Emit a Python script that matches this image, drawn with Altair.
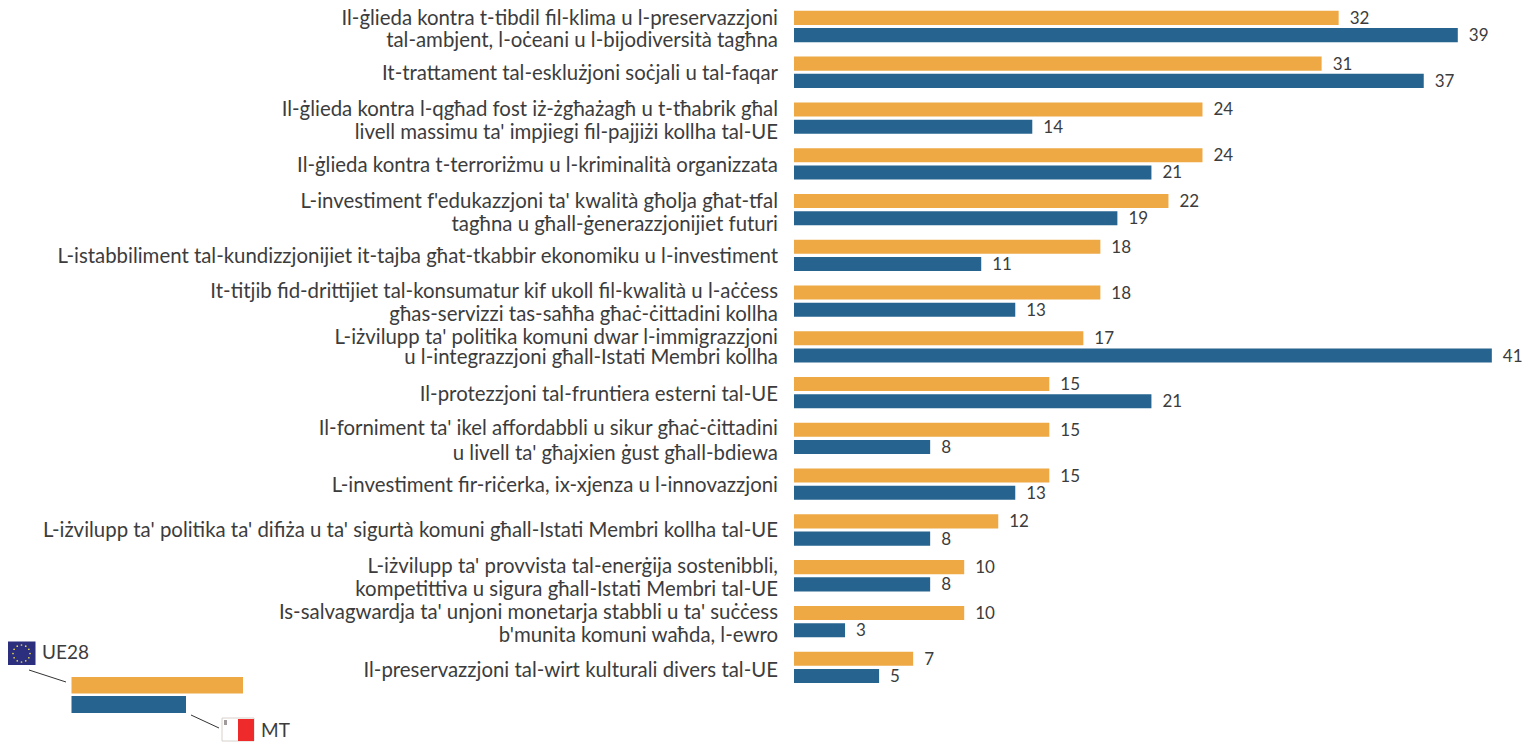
import altair as alt
import pandas as pd

categories = [
    "Il-ġlieda kontra t-tibdil fil-klima u l-preservazzjoni\ntal-ambjent, l-oċeani u l-bijodiversità tagħna",
    "It-trattament tal-esklużjoni soċjali u tal-faqar",
    "Il-ġlieda kontra l-qgħad fost iż-żgħażagħ u t-tħabrik għal\nlivell massimu ta' impjiegi fil-pajjiżi kollha tal-UE",
    "Il-ġlieda kontra t-terroriżmu u l-kriminalità organizzata",
    "L-investiment f'edukazzjoni ta' kwalità għolja għat-tfal\ntagħna u għall-ġenerazzjonijiet futuri",
    "L-istabbiliment tal-kundizzjonijiet it-tajba għat-tkabbir ekonomiku u l-investiment",
    "It-titjib fid-drittijiet tal-konsumatur kif ukoll fil-kwalità u l-aċċess\ngħas-servizzi tas-saħħa għaċ-ċittadini kollha",
    "L-iżvilupp ta' politika komuni dwar l-immigrazzjoni\nu l-integrazzjoni għall-Istati Membri kollha",
    "Il-protezzjoni tal-fruntiera esterni tal-UE",
    "Il-forniment ta' ikel affordabbli u sikur għaċ-ċittadini\nu livell ta' għajxien ġust għall-bdiewa",
    "L-investiment fir-riċerka, ix-xjenza u l-innovazzjoni",
    "L-iżvilupp ta' politika ta' difiża u ta' sigurtà komuni għall-Istati Membri kollha tal-UE",
    "L-iżvilupp ta' provvista tal-enerġija sostenibbli,\nkompetittiva u sigura għall-Istati Membri tal-UE",
    "Is-salvagwardja ta' unjoni monetarja stabbli u ta' suċċess\nb'munita komuni waħda, l-ewro",
    "Il-preservazzjoni tal-wirt kulturali divers tal-UE",
]
ue28 = [32, 31, 24, 24, 22, 18, 18, 17, 15, 15, 15, 12, 10, 10, 7]
mt = [39, 37, 14, 21, 19, 11, 13, 41, 21, 8, 13, 8, 8, 3, 5]
series = ["UE28", "MT"]
colors = ["#EEA944", "#26648F"]

FONT = "Lato"
INK = "#3C3C3C"
LABEL_SIZE = 20.4

df = pd.DataFrame(
    [{"cat": c, "series": "UE28", "value": v} for c, v in zip(categories, ue28)]
    + [{"cat": c, "series": "MT", "value": v} for c, v in zip(categories, mt)]
)

x = alt.X("value:Q", axis=None, scale=alt.Scale(domain=[0, 42.89], range=[0, 730], nice=False))
y_scale = alt.Scale(domain=categories, range=[-4.4, 682.2], paddingInner=0, paddingOuter=0)
y = alt.Y("cat:N", sort=categories, title=None, axis=None, scale=y_scale)
yoff = alt.YOffset("series:N", sort=series,
                   scale=alt.Scale(paddingInner=0.186, paddingOuter=0.42))

bars = alt.Chart(df).mark_bar(cornerRadius=0).encode(
    x=x, y=y, yOffset=yoff,
    color=alt.Color("series:N", sort=series, scale=alt.Scale(domain=series, range=colors), legend=None),
)
vals = alt.Chart(df).mark_text(align="left", baseline="middle", dx=11, dy=1, font=FONT, fontSize=17, color=INK).encode(
    x=x, y=y, yOffset=yoff, text=alt.Text("value:Q"),
)

# category labels: one real text per line, placed through the y scale
LINE_SHIFTS = {
    0: [-7, 15], 1: [2], 2: [-8, 15], 3: [2], 4: [-8, 15], 5: [2], 6: [-9, 14], 7: [-9, 11],
    8: [2], 9: [-9, 16], 10: [2], 11: [1], 12: [-9, 14], 13: [-9, 14], 14: [4],
}

rows = []
for i, c in enumerate(categories):
    for p, s in zip(c.split("\n"), LINE_SHIFTS[i]):
        rows.append({"cat": c, "line": p, "shift": s})
line_df = pd.DataFrame(rows)

label_layers = [
    alt.Chart(line_df[line_df["shift"] == s]).mark_text(
        align="right", baseline="middle", dx=-16, dy=int(s), font=FONT, fontSize=LABEL_SIZE, color=INK
    ).encode(x=alt.value(0), y=y, text="line:N")
    for s in sorted(line_df["shift"].unique())
]

# ----- hand-drawn key in the bottom-left corner (page pixels relative to the plot origin)
OX, OY = 794, 8
def px(v):
    return alt.value(v - OX)
def py(v):
    return alt.value(v - OY)

blank = pd.DataFrame({"k": [0]})
def box(x0, x1, y0, y1, fill, stroke=None):
    kw = {"fill": fill}
    if stroke:
        kw.update(stroke=stroke, strokeWidth=1)
    return alt.Chart(blank).mark_rect(**kw).encode(x=px(x0), x2=px(x1), y=py(y0), y2=py(y1))
def seg(x0, y0, x1, y1):
    d = pd.DataFrame({"a": [x0 - OX, x1 - OX], "b": [y0 - OY, y1 - OY]})
    return alt.Chart(d).mark_line(color="#333333", strokeWidth=1).encode(
        x=alt.X("a:Q", scale=None), y=alt.Y("b:Q", scale=None), order="a:Q")
def label(t, x0, y0):
    return alt.Chart(pd.DataFrame({"t": [t]})).mark_text(
        align="left", baseline="middle", font=FONT, fontSize=19, color=INK
    ).encode(x=px(x0), y=py(y0), text="t:N")

stars = alt.Chart(pd.DataFrame({"h": list(range(12))})).transform_calculate(
    a=f"21.5 - {OX} + 8.5*cos(datum.h*PI/6)", b=f"653.5 - {OY} + 8.5*sin(datum.h*PI/6)"
).mark_point(shape="circle", filled=True, size=3, color="#E9D84B", opacity=1).encode(
    x=alt.X("a:Q", scale=None), y=alt.Y("b:Q", scale=None)
)

key = [
    box(71.5, 243, 677, 693.5, colors[0]),
    box(71.5, 186, 696, 713, colors[1]),
    seg(29, 670, 66, 682),
    seg(191, 715, 219, 728),
    box(3, 35.5, 641.5, 665, "#2B2F7D"),
    stars,
    box(222, 254, 718, 741, "#FFFFFF", "#D8D0CC"),
    box(238, 254, 719, 741, "#EE2A2A"),
    box(224, 227, 720, 725, "#A09A9A"),
    label("UE28", 42, 653),
    label("MT", 261, 731),
]

chart = alt.layer(bars, vals, *label_layers, *key).resolve_scale(x="independent", y="independent").properties(
    width=730, height=734,
    padding={"left": 786, "top": 0, "right": 0, "bottom": 0},
    autosize=alt.AutoSizeParams(type="none"),
).configure_view(stroke=None)

chart.save("out.html", embed_options={"renderer": "svg", "actions": False})
